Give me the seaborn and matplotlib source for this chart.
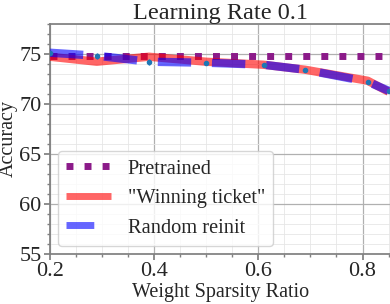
import numpy as np
import pandas as pd
import matplotlib.pyplot as plt
import seaborn as sns

# ----- dati -----
sparsity = [0.2, 0.29, 0.39, 0.5, 0.61, 0.69, 0.81, 0.85]
winning_acc = [74.7, 74.2, 74.7, 74.2, 73.9, 73.4, 72.3, 71.2]
random_acc = [75.1, 74.8, 74.2, 74.1, 73.9, 73.4, 72.2, 71.3]
random_err = [0.1, 0.3, 0.3, 0.2, 0.2, 0.2, 0.2, 0.2]
pretrained_acc = 74.8

sns.set_theme(style="whitegrid")
plt.rcParams['font.family'] = ['Liberation Serif', 'DejaVu Serif']
plt.rcParams['lines.solid_capstyle'] = 'butt'
plt.rcParams['lines.dash_capstyle'] = 'butt'

fig = plt.figure(figsize=(3.9, 3.04), dpi=100)
ax = fig.add_axes([0.128, 0.165, 0.875, 0.757])

df_win = pd.DataFrame({"x": sparsity, "y": winning_acc})
df_rand = pd.DataFrame({"x": sparsity, "y": random_acc})

ax.axhline(pretrained_acc, color="#8b1a89", lw=5, ls=(0, (1, 1.6)), label="Pretrained", zorder=3)
sns.lineplot(data=df_win, x="x", y="y", ax=ax, color="red", lw=6, alpha=0.6,
             label='"Winning ticket"', zorder=4)
sns.lineplot(data=df_rand, x="x", y="y", ax=ax, color="blue", lw=6, alpha=0.6,
             ls=(0, (4, 2.5)), label="Random reinit", zorder=5)
ax.errorbar(sparsity, random_acc, yerr=random_err, fmt="o", ms=3, color="#1f77b4",
            elinewidth=1, capsize=0, zorder=6)

ax.set_xlim(0.2, 0.855)
ax.set_ylim(55, 78)
ax.set_xticks([0.2, 0.4, 0.6, 0.8])
ax.set_yticks([55, 60, 65, 70, 75])
ax.minorticks_on()
ax.grid(True, which="major", color="#b0b0b0", lw=0.9)
ax.grid(True, which="minor", color="#e6e6e6", lw=0.6)
ax.tick_params(axis="both", which="major", labelsize=16, length=4, color="#808080", left=True, bottom=True, pad=2)
ax.tick_params(axis="both", which="minor", length=2, color="#808080", left=True, bottom=True)
for s in ax.spines.values():
    s.set_color("#808080")

ax.set_title("Learning Rate 0.1", fontsize=17.5, pad=3)
ax.set_xlabel("Weight Sparsity Ratio", fontsize=14.5, labelpad=1)
ax.set_ylabel("Accuracy", fontsize=14.5, labelpad=1)
leg = ax.legend(loc="lower left", fontsize=14.7, frameon=True, handlelength=2.2,
                borderaxespad=0.4, labelspacing=0.5)
for h in leg.get_lines():
    h.set_linewidth(5)

plt.savefig("out.png", dpi=100)
